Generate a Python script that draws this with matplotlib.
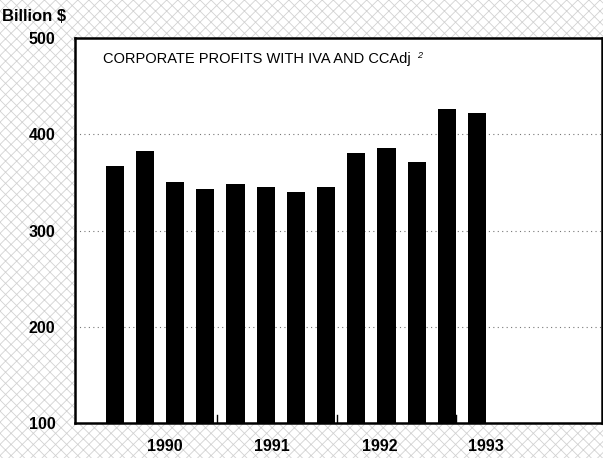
import numpy as np
import matplotlib.pyplot as plt
from matplotlib.patches import Rectangle

plt.rcParams['font.family'] = ['Liberation Sans Narrow', 'Liberation Sans', 'DejaVu Sans']
plt.rcParams['hatch.linewidth'] = 0.6

# quarterly corporate profits, 1990 Q1 .. 1993 Q1
quarters = ['90Q1', '90Q2', '90Q3', '90Q4', '91Q1', '91Q2', '91Q3', '91Q4',
            '92Q1', '92Q2', '92Q3', '92Q4', '93Q1']
profits = [367, 383, 350, 343, 348, 345, 340, 345, 381, 386, 371, 426, 422]
years = ['1990', '1991', '1992', '1993']
year_label_pos = [1.66, 5.2, 8.77, 12.3]
year_breaks = [3.4, 7.35, 11.3]
yticks = [100, 200, 300, 400, 500]

fig = plt.figure(figsize=(6.03, 4.58), dpi=100)
# halftone-like screen behind the chart
bg = Rectangle((0, 0), 1, 1, transform=fig.transFigure, facecolor='white',
               edgecolor='#d2d2d2', hatch='xxx', linewidth=0, zorder=-10)
fig.patches.append(bg)

ax = fig.add_axes([0.124, 0.076, 0.874, 0.841])
ax.set_facecolor('white')

x = np.arange(len(quarters))
ax.bar(x, [p - 100 for p in profits], bottom=100, width=0.6, color='black', zorder=3)

ax.set_xlim(-1.32, 16.13)
ax.set_ylim(100, 500)
ax.set_yticks(yticks)
ax.set_yticklabels([str(t) for t in yticks], fontsize=11.5, fontweight='bold')
ax.tick_params(axis='y', length=0, pad=14)
ax.set_xticks([])
for v in [200, 300, 400]:
    ax.axhline(v, color='#777777', linestyle=(0, (1, 3)), linewidth=0.8, zorder=1)
for s in ax.spines.values():
    s.set_linewidth(1.8)

for b in year_breaks:
    ax.plot([b, b], [100, 109], color='black', linewidth=1.0, zorder=4)

for lab, p in zip(years, year_label_pos):
    ax.text(p, 76, lab, ha='center', va='center', fontsize=11.5, fontweight='bold',
            clip_on=False)

ax.text(-0.4, 478, 'CORPORATE PROFITS WITH IVA AND CCAdj', ha='left', va='center',
        fontsize=10.5)
ax.text(10.0, 482, '2', ha='left', va='center', fontsize=6.5, style='italic')

fig.text(0.003, 0.965, 'Billion $', ha='left', va='center', fontsize=12, fontweight='bold')

fig.savefig('out.png', dpi=100)
